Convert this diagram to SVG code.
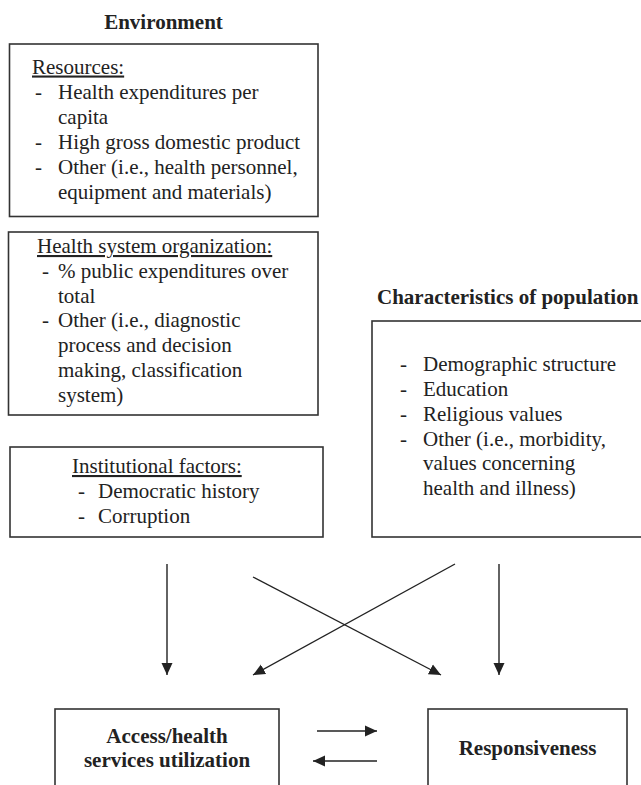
<svg xmlns="http://www.w3.org/2000/svg" width="641" height="785" viewBox="0 0 641 785">
<style>
  text { font-family: "Liberation Serif", "Times New Roman", serif; font-size: 21px; fill: #222; }
  .b { font-weight: bold; }
  .u { text-decoration: underline; }
  .box { fill: #fff; stroke: #333; stroke-width: 1.6; }
  .conn { stroke: #222; stroke-width: 1.4; fill: none; marker-end: url(#ah); }
</style>
<defs>
  <marker id="ah" markerUnits="userSpaceOnUse" markerWidth="12" markerHeight="12" viewBox="0 0 12 12" refX="12" refY="6" orient="auto">
    <path d="M0,0.5 L12,6 L0,11.5 Z" fill="#222"/>
  </marker>
</defs>
<rect width="641" height="785" fill="#fff"/>

<g id="environment-title">
  <text class="b" x="163.5" y="29" text-anchor="middle">Environment</text>
</g>

<g id="resources">
  <rect class="box" x="9.5" y="44" width="308.5" height="172.5"/>
  <text class="u" x="32" y="73.5">Resources:</text>
  <text x="35" y="98.5">-</text><text x="58" y="98.5">Health expenditures per</text>
  <text x="58" y="123.5">capita</text>
  <text x="35" y="148.5">-</text><text x="58" y="148.5">High gross domestic product</text>
  <text x="35" y="173.5">-</text><text x="58" y="173.5">Other (i.e., health personnel,</text>
  <text x="58" y="198.5">equipment and materials)</text>
</g>

<g id="health-system-organization">
  <rect class="box" x="8.5" y="232" width="309.5" height="183"/>
  <text class="u" x="37" y="253">Health system organization:</text>
  <text x="42" y="278">-</text><text x="58" y="278">% public expenditures over</text>
  <text x="58" y="302.5">total</text>
  <text x="42" y="327">-</text><text x="58" y="327">Other (i.e., diagnostic</text>
  <text x="58" y="352">process and decision</text>
  <text x="58" y="377">making, classification</text>
  <text x="58" y="402">system)</text>
</g>

<g id="institutional-factors">
  <rect class="box" x="10" y="447" width="313" height="90"/>
  <text class="u" x="72" y="473">Institutional factors:</text>
  <text x="78" y="498">-</text><text x="98" y="498">Democratic history</text>
  <text x="78" y="523">-</text><text x="98" y="523">Corruption</text>
</g>

<g id="characteristics-title">
  <text class="b" x="377" y="304">Characteristics of population</text>
</g>

<g id="characteristics">
  <rect class="box" x="372" y="321" width="285" height="216"/>
  <text x="400" y="371">-</text><text x="423" y="371">Demographic structure</text>
  <text x="400" y="396">-</text><text x="423" y="396">Education</text>
  <text x="400" y="421">-</text><text x="423" y="421">Religious values</text>
  <text x="400" y="445.5">-</text><text x="423" y="445.5">Other (i.e., morbidity,</text>
  <text x="423" y="470">values concerning</text>
  <text x="423" y="495">health and illness)</text>
</g>

<g id="access">
  <rect class="box" x="55" y="709" width="224" height="100"/>
  <text class="b" x="167" y="743" text-anchor="middle">Access/health</text>
  <text class="b" x="167" y="767" text-anchor="middle">services utilization</text>
</g>

<g id="responsiveness">
  <rect class="box" x="428" y="709" width="199" height="100"/>
  <text class="b" x="527.5" y="755" text-anchor="middle">Responsiveness</text>
</g>

<g id="connectors">
  <line class="conn" x1="167" y1="564" x2="167" y2="675"/>
  <line class="conn" x1="499" y1="564" x2="499" y2="675"/>
  <line class="conn" x1="253" y1="577" x2="441" y2="675"/>
  <line class="conn" x1="455" y1="564" x2="253" y2="675"/>
  <line class="conn" x1="317" y1="731" x2="377" y2="731"/>
  <line class="conn" x1="377" y1="761" x2="313" y2="761"/>
</g>
</svg>
